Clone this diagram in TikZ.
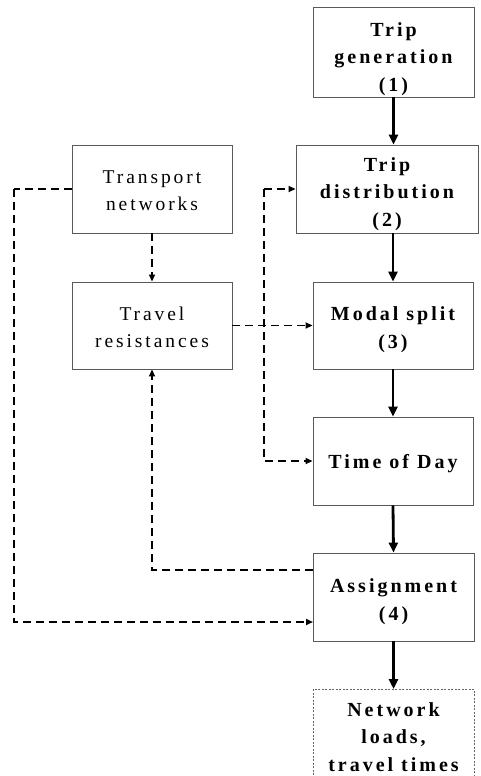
\documentclass[tikz,border=0pt]{standalone}
\usepackage{fontspec}
\setmainfont{Liberation Serif}
\newfontfamily\lblfont[LetterSpace=15]{Liberation Serif}
\usetikzlibrary{arrows.meta}
\newcommand{\tpad}[1]{\rule{0pt}{#1}}
\begin{document}
\begin{tikzpicture}[x=1pt,y=-1pt,
  box/.style={draw=black!65, line width=0.9pt, rectangle, inner sep=0pt, align=center,
    font=\lblfont\fontsize{19.5}{27}\selectfont},
  bbox/.style={box, font=\lblfont\bfseries\fontsize{20}{27.5}\selectfont},
  solidarr/.style={line width=2.8pt, -{Triangle[length=10pt,width=9pt]}},
  dsh/.style={line width=1.9pt, dash pattern=on 8pt off 5pt, -{Triangle[length=7pt,width=6pt]}},
]
\useasboundingbox (0,0) rectangle (480,776);
\begin{scope}
\clip (0,0) rectangle (480,776);
\node[bbox, minimum width=161pt, minimum height=90pt] (gen) at (393.5,52) {\tpad{28pt}Trip\\generation\\(1)};
\node[bbox, minimum width=182pt, minimum height=88pt] (dist) at (387,189) {\tpad{24pt}Trip\\distribution\\(2)};
\node[bbox, minimum width=160pt, minimum height=87pt] (modal) at (393,325.5) {\tpad{22pt}Modal split\\(3)};
\node[bbox, minimum width=160pt, minimum height=88pt] (tod) at (393,461) {\tpad{19pt}Time of Day};
\node[bbox, minimum width=161pt, minimum height=88pt] (assign) at (393.5,597) {\tpad{23pt}Assignment\\(4)};
\node[bbox, draw=black!60, line width=0.7pt, dash pattern=on 2pt off 1.5pt, minimum width=161pt, minimum height=100pt, anchor=north, text depth=0pt] (net) at (393.5,689) {\tpad{27pt}Network\\loads,\\travel times\\[6pt]~};
\node[box, minimum width=160pt, minimum height=88pt] (trans) at (152,189) {\tpad{17pt}Transport\\networks};
\node[box, minimum width=160pt, minimum height=87pt] (resist) at (152,325.5) {\tpad{17pt}Travel\\resistances};
\end{scope}

% solid flow
\draw[solidarr] (gen.south) -- (gen.south |- dist.north);
\draw[solidarr] (modal.north |- dist.south) -- (modal.north);
\draw[solidarr] (modal.south) -- (tod.north);
\draw[solidarr] (tod.south) -- (assign.north);
\draw[solidarr] (assign.south) -- (net.north);

% dashed links
\draw[dsh] (trans.south) -- (resist.north);
\draw[dsh] (resist.east) -- (modal.west);
\coordinate (j) at (264,189);
\draw[dsh] (j) -- (dist.west);
\coordinate (j2) at (264,189);
\draw[dsh] (j2) |- (tod.west);
\coordinate (a1) at (313,570);
\draw[dsh] (a1) -| (resist.south);
\coordinate (lft) at (14,189);
\coordinate (a2) at (313,622);
\draw[dsh, -] (trans.west) -- (lft);
\draw[dsh] (lft) |- (a2);
\end{tikzpicture}
\end{document}
